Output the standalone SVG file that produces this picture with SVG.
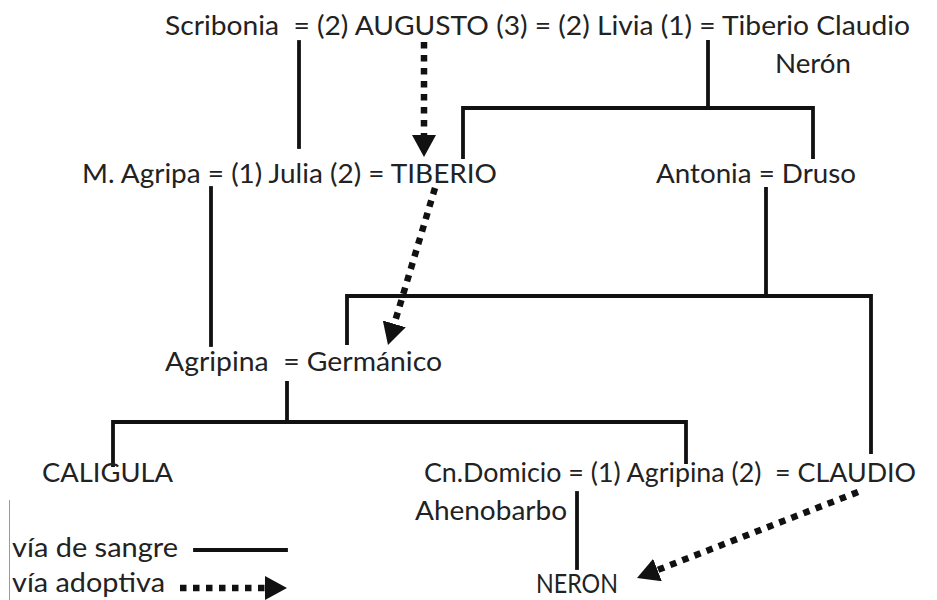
<svg xmlns="http://www.w3.org/2000/svg" width="937" height="600" viewBox="0 0 937 600">
<style>
text{font-family:Lato,"Open Sans","Liberation Sans",sans-serif;font-size:26.5px;fill:#222;white-space:pre}
.s{fill:none;stroke:#111;stroke-width:3.8;stroke-linecap:square;stroke-linejoin:miter}
.d{fill:none;stroke:#111;stroke-width:6.5;stroke-dasharray:6.5 6.5}
</style>
<defs>
<marker id="ah" markerUnits="userSpaceOnUse" viewBox="0 0 22 24" refX="0" refY="12" markerWidth="22" markerHeight="24" orient="auto">
<path d="M0,0 L22,12 L0,24 Z" fill="#111"/>
</marker>
</defs>
<rect width="937" height="600" fill="#fff"/>
<g id="connectors">
<path class="s" d="M299,42 V147"/>
<path class="s" d="M708,42 V108 M463,157 V108 H813 V157"/>
<path class="s" d="M211,188 V345"/>
<path class="s" d="M766,189 V296 M347,343 V296 H871 V452"/>
<path class="s" d="M287,383 V422 M113,465 V422 H686 V462"/>
<path class="s" d="M577,493 V568"/>
<path class="d" d="M424,42 V135" marker-end="url(#ah)"/>
<path class="d" d="M435,188 L394.3,323.9" marker-end="url(#ah)"/>
<path class="d" d="M858,492 L657.5,570" marker-end="url(#ah)"/>
</g>
<g id="gen1"><text x="165" y="35" textLength="745" lengthAdjust="spacingAndGlyphs">Scribonia  = (2) AUGUSTO (3) = (2) Livia (1) = Tiberio Claudio</text>
<text x="775" y="73" textLength="76" lengthAdjust="spacingAndGlyphs">Nerón</text></g>
<g id="julia"><text x="82" y="183" textLength="415" lengthAdjust="spacingAndGlyphs">M. Agripa = (1) Julia (2) = TIBERIO</text></g>
<g id="antonia"><text x="656" y="183" textLength="200" lengthAdjust="spacingAndGlyphs">Antonia = Druso</text></g>
<g id="agripina"><text x="165" y="371" textLength="277" lengthAdjust="spacingAndGlyphs">Agripina  = Germánico</text></g>
<g id="caligula"><text x="42" y="482" textLength="131" lengthAdjust="spacingAndGlyphs">CALIGULA</text></g>
<g id="agripina2"><text x="424" y="482" textLength="492" lengthAdjust="spacingAndGlyphs">Cn.Domicio = (1) Agripina (2)  = CLAUDIO</text>
<text x="415" y="520" textLength="152" lengthAdjust="spacingAndGlyphs">Ahenobarbo</text></g>
<g id="neron"><text x="536" y="593" textLength="82" lengthAdjust="spacingAndGlyphs">NERON</text></g>
<g id="legend">
<path d="M9.5,500 V600" stroke="#999" stroke-width="1"/>
<text x="12" y="557" textLength="166" lengthAdjust="spacingAndGlyphs">vía de sangre</text>
<text x="12" y="592" textLength="153" lengthAdjust="spacingAndGlyphs">vía adoptiva</text>
<path class="s" d="M195,550 H286"/>
<path class="d" d="M180,588 H265" marker-end="url(#ah)"/>
</g>
</svg>
